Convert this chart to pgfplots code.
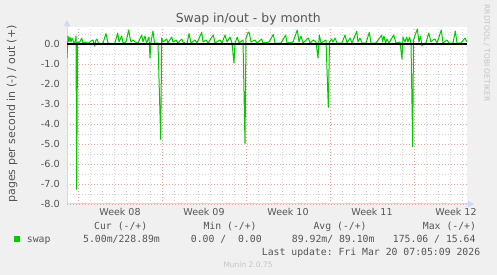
\documentclass[border=0pt]{standalone}
\usepackage{fontspec}
\setmainfont{DejaVu Sans}
\setmonofont{DejaVu Sans Mono}
\usepackage{pgfplots}
\pgfplotsset{compat=1.18}
\usetikzlibrary{arrows.meta}
\definecolor{bgcol}{HTML}{F0F0F0}
\definecolor{txtcol}{HTML}{555555}
\definecolor{axiscol}{HTML}{CFD6F8}
\definecolor{mgridcol}{HTML}{E8A0A0}
\definecolor{gridcol}{HTML}{D4D4D4}
\definecolor{swapcol}{HTML}{00CC00}
\definecolor{wmcol}{HTML}{C4C4C4}
\begin{document}
\begin{tikzpicture}
\fill[bgcol] (0,0) rectangle (497bp,275bp);
\begin{axis}[
  at={(67bp,71bp)}, anchor=south west,
  scale only axis, width=400bp, height=177bp,
  xmin=0, xmax=400, ymin=-8, ymax=0.85,
  axis background/.style={fill=white},
  axis lines=left,
  axis line style={draw=axiscol, line width=1bp, -{Triangle[length=6bp,width=6bp]}, shorten >=-7bp},
  xtick={11,95,179,263,347}, xticklabels={},
  minor xtick={11,23,...,395},
  extra x ticks={53,137,221,305,389},
  extra x tick labels={Week 08,Week 09,Week 10,Week 11,Week 12},
  extra x tick style={grid=none},
  ytick={-8,-7,...,0},
  yticklabels={-8.0,-7.0,-6.0,-5.0,-4.0,-3.0,-2.0,-1.0,0.0},
  minor ytick={-7.5,-6.5,...,0.5},
  major tick length=0pt, minor tick length=0pt,
  grid=both,
  major grid style={draw=mgridcol, dash pattern=on 1bp off 2bp, line width=0.8bp},
  minor grid style={draw=gridcol, dash pattern=on 1bp off 2bp, line width=0.8bp},
  xticklabel style={inner sep=0pt, yshift=-4.3bp, font=\fontsize{9.5bp}{11bp}\selectfont, text=txtcol},
  yticklabel style={inner sep=0pt, xshift=-7bp, font=\fontsize{9.7bp}{11bp}\selectfont, text=txtcol},
  clip=true,
]
\addplot[swapcol, line width=1bp, line join=round] coordinates {
(0,-0.7) (1,0.4) (2,0.12) (3,0.35) (4,0.1) (5,0.3) (7,0.05) (8.5,0.15) (9,0.4) (9.7,-7.27) (10.5,0.1) (12,0.02) (14.7,0.3) (16,0.05) (19,0.1) (21,0.03) (24,0.15) (26,0.2) (27.5,-0.1) (29,0.2) (30,0.25) (31,0.1) (33,0.0) (36,0.05) (39,0.52) (41,0.05) (44,0.0) (48,0.05) (50.7,0.55) (52,0.1) (54.7,0.4) (56,0.05) (59,0.1) (61.7,0.7) (63,0.3) (64,0.1) (66,0.2) (68,0.1) (71,0.05) (74.7,0.45) (76,0.1) (78,0.4) (79.5,0.05) (82,0.35) (83,-0.7) (84,0.1) (86,0.65) (87.5,0.05) (91,0.05) (93.7,-4.77) (94.7,0.3) (96,0.1) (99.7,0.25) (101,0.05) (104.7,0.35) (106,0.1) (109,0.2) (111,0.05) (114.7,0.25) (116,0.1) (120,0.0) (122,0.52) (124,0.05) (128,0.2) (130,0.05) (134.7,0.58) (136,0.1) (139,0.2) (141,0.05) (146.3,0.45) (148,0.05) (153,0.2) (155,0.05) (158,0.45) (160,0.1) (163,0.35) (165,0.05) (167,-0.95) (168,0.05) (170.3,0.35) (172,0.05) (176,0.2) (178,-4.97) (179,0.3) (181.3,0.6) (182.3,0.55) (184,0.1) (188,0.2) (190,0.05) (194.7,0.25) (196,0.05) (202,0.1) (206.3,0.48) (208,0.05) (214,0.05) (218.7,0.45) (220,0.05) (226,0.1) (230.3,0.7) (232,0.1) (234,0.4) (236,0.05) (241.3,0.3) (243,0.05) (246.3,0.2) (249,0.1) (251,-0.7) (252.3,0.45) (254,0.05) (259,0.2) (261.3,-3.17) (262.5,0.1) (264.7,0.25) (266,0.1) (268,0.3) (270,0.05) (275,0.05) (278,0.45) (280,0.05) (283,0.3) (285,0.05) (289.7,0.63) (291,0.1) (293,0.3) (295,0.05) (299,0.05) (302.3,0.58) (304,0.05) (309,0.05) (314.7,0.45) (315.5,0.1) (317,0.4) (318.5,0.05) (320,0.25) (322,0.05) (326.7,0.45) (329,0.05) (333,0.1) (335,-0.75) (336,0.35) (338,0.1) (339.7,0.35) (341,0.1) (342.5,0.35) (344,0.05) (345.7,-5.13) (346.5,0.2) (350.3,0.75) (352,0.1) (353.5,0.4) (355,-0.1) (356,0.0) (359,0.05) (361.7,0.55) (364,0.1) (366,0.2) (368,0.25) (370,0.05) (374.3,0.7) (376,0.05) (380,0.2) (382,0.05) (386,0.05) (388.3,0.65) (390,0.05) (394,0.05) (398,0.3) (400,0.1)
};
\addplot[black, line width=1.2bp] coordinates {(0,0) (400,0)};
\end{axis}
% title
\node[anchor=base, inner sep=0pt, text=txtcol, font=\fontsize{12.4bp}{14bp}\selectfont] at (248.3bp,252bp) {Swap in/out - by month};
% y label
\node[rotate=90, anchor=center, inner sep=0pt, text=txtcol, font=\fontsize{11bp}{13bp}\selectfont] at (12bp,161bp) {pages per second in (-) / out (+)};
% watermark
\node[rotate=-90, anchor=center, inner sep=0pt, text=wmcol, font=\fontsize{7.5bp}{9bp}\selectfont] at (486.7bp,222bp) {RRDTOOL / TOBI OETIKER};
% legend
\fill[swapcol] (14bp,33bp) rectangle (19.5bp,38.5bp);
\begin{scope}[every node/.style={anchor=base west, inner sep=0pt, text=txtcol, font=\ttfamily\fontsize{9.8bp}{11bp}\selectfont}]
\node at (26.7bp,33bp) {swap};
\node at (94bp,45bp) {Cur (-/+)};
\node at (203.3bp,45bp) {Min (-/+)};
\node at (313.3bp,45bp) {Avg (-/+)};
\node at (422.7bp,45bp) {Max (-/+)};
\node at (83bp,33bp) {5.00m/228.89m};
\node at (190.7bp,33bp) {0.00 /\ \ 0.00};
\node at (291.7bp,33bp) {89.92m/ 89.10m};
\node at (392.7bp,33bp) {175.06 / 15.64};
\node at (261.7bp,20bp) {Last update: Fri Mar 20 07:05:09 2026};
\end{scope}
\node[anchor=base west, inner sep=0pt, text=wmcol, font=\fontsize{7.5bp}{9bp}\selectfont] at (223.3bp,8bp) {Munin 2.0.75};
\pgfresetboundingbox
\path (0,0) rectangle (497bp,275bp);
\end{tikzpicture}
\end{document}
